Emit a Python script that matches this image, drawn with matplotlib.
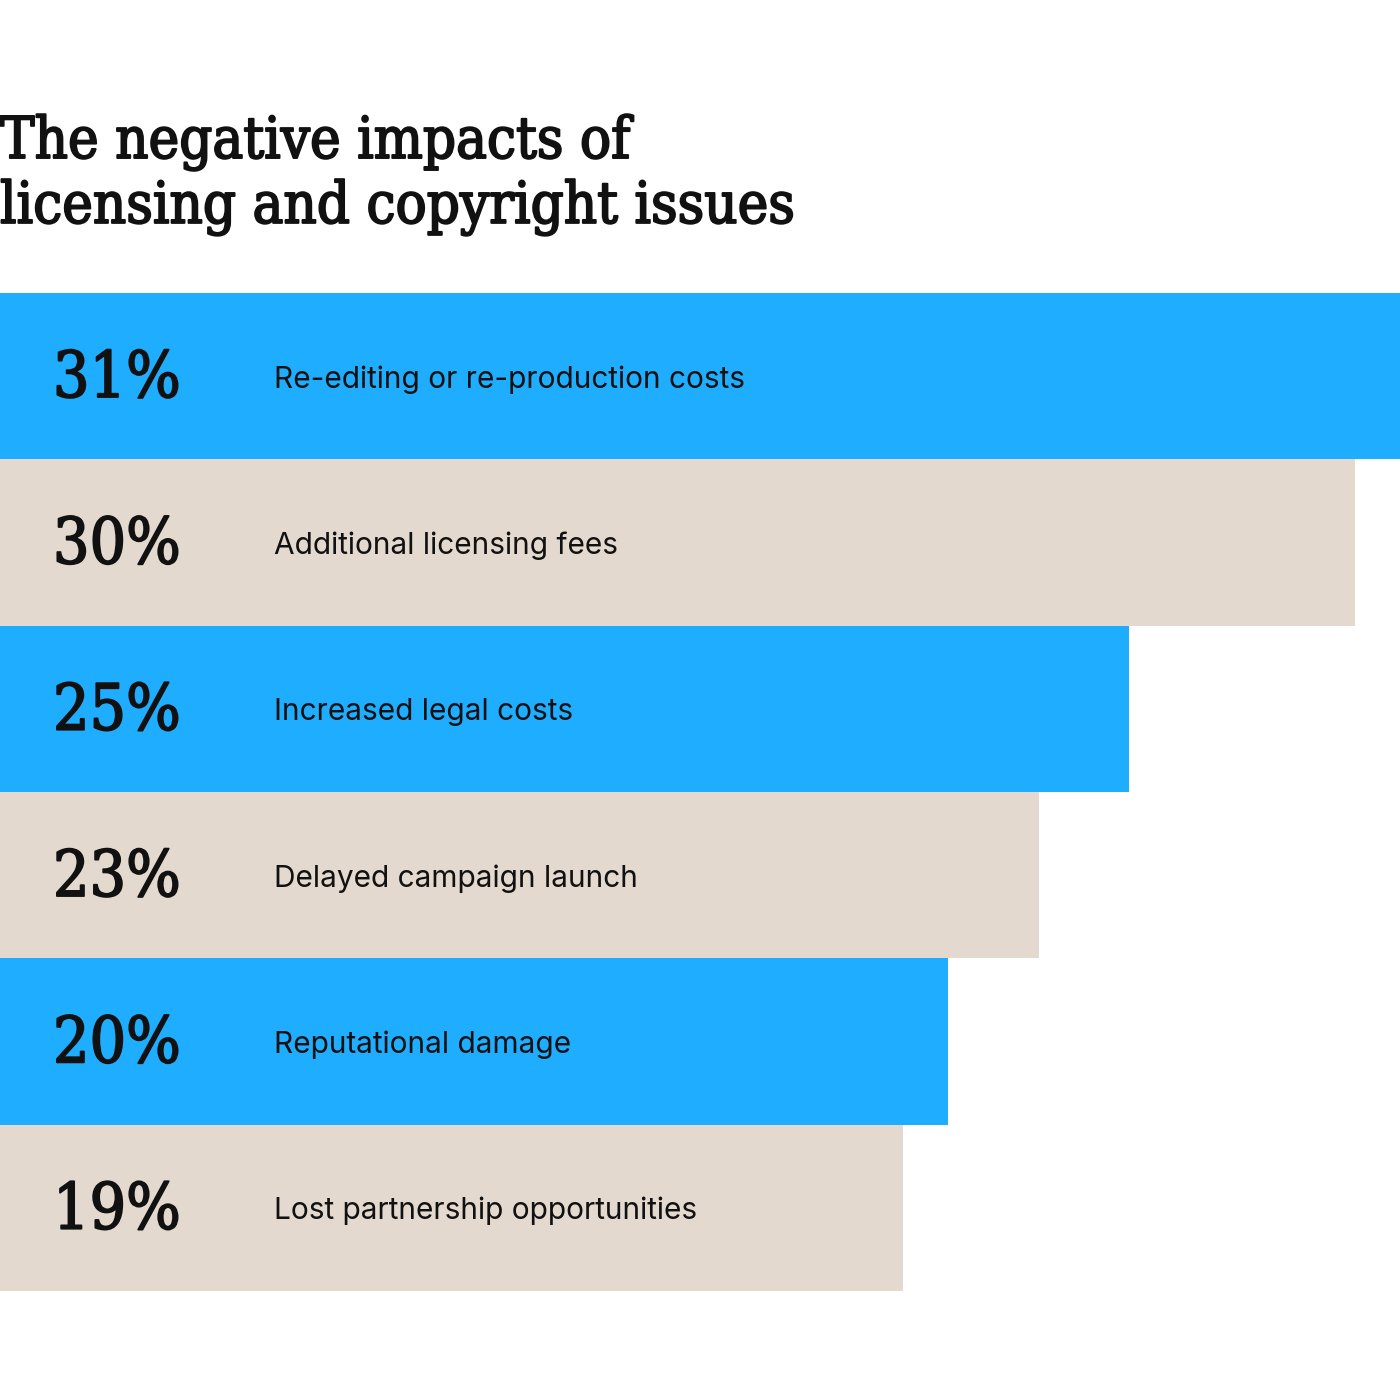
import matplotlib
matplotlib.use("Agg")
import matplotlib.pyplot as plt
import matplotlib.patheffects as pe

categories = ["Re-editing or re-production costs", "Additional licensing fees",
              "Increased legal costs", "Delayed campaign launch",
              "Reputational damage", "Lost partnership opportunities"]
pct_labels = ["31%", "30%", "25%", "23%", "20%", "19%"]
bar_values = [31, 30, 25, 23, 21, 20]
colors = ["#1FAEFF", "#E3D9CF", "#1FAEFF", "#E3D9CF", "#1FAEFF", "#E3D9CF"]
title = "The negative impacts of\nlicensing and copyright issues"

W = H = 1400
fig = plt.figure(figsize=(14, 14), dpi=100)
fig.patch.set_facecolor("white")

top_px, bot_px = 293, 1291
ax = fig.add_axes([0, (H - bot_px) / H, 1, (bot_px - top_px) / H])
y = list(range(len(categories)))
ax.barh(y, bar_values, height=1.0, color=colors, linewidth=0)
ax.set_xlim(0, 31)
ax.set_ylim(len(categories) - 0.5, -0.5)
ax.axis("off")

ink = "#111111"
heavy = [pe.withStroke(linewidth=1.3, foreground=ink)]

for i, (p, c) in enumerate(zip(pct_labels, categories)):
    ax.text(53 / W * 31, i + 0.02, p, fontsize=46, family="DejaVu Serif",
            fontstretch="condensed", va="center", ha="left",
            color=ink, path_effects=heavy)
    ax.text(274 / W * 31, i + 0.02, c, fontsize=21.5, family="Inter", va="center",
            ha="left", color=ink)

fig.text(0.0, 1 - 114 / H, title, fontsize=41.5, family="DejaVu Serif",
         fontstretch="condensed",
         va="top", ha="left", color=ink, linespacing=1.18,
         path_effects=[pe.withStroke(linewidth=1.4, foreground=ink)])

fig.savefig("out.png", dpi=100)
